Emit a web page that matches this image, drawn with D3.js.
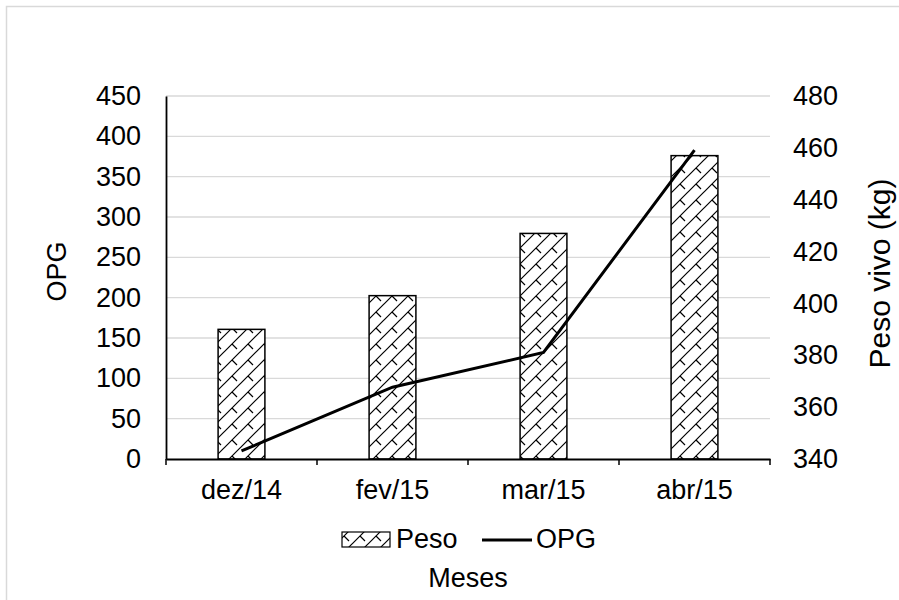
<!DOCTYPE html>
<html>
<head>
<meta charset="utf-8">
<script src="https://cdn.jsdelivr.net/npm/d3@7"></script>
<style>
  html, body { margin: 0; padding: 0; background: #fff; }
  svg { display: block; }
  text { font-family: "Liberation Sans", Arial, sans-serif; fill: #000; }
</style>
</head>
<body>
<svg id="chart" width="899" height="600"></svg>
<script>
// ---- data ----
const categories = ["dez/14", "fev/15", "mar/15", "abr/15"];
const pesoValues = [390, 403, 427, 457];     // Peso vivo (kg), right axis, bars
const opgValues  = [10, 89, 132, 383];       // OPG, left axis, line
const leftTicks  = [0, 50, 100, 150, 200, 250, 300, 350, 400, 450];
const rightTicks = [340, 360, 380, 400, 420, 440, 460, 480];

const W = 899, H = 600;
const plot = { left: 166, right: 770, top: 96, bottom: 459 };
const fontSize = 27;

const svg = d3.select("#chart");

// pattern (shingle-like hatch)
const defs = svg.append("defs");
const pat = defs.append("pattern")
  .attr("id", "shingle")
  .attr("patternUnits", "userSpaceOnUse")
  .attr("width", 16).attr("height", 16);
pat.append("rect").attr("width", 16).attr("height", 16).attr("fill", "#fff");
pat.append("path")
  .attr("d", "M-2,18 L18,-2 M-2,2 L2,-2 M14,18 L18,14 M8,8 L13,13")
  .attr("stroke", "#000").attr("stroke-width", 1.2).attr("fill", "none");

// chart border
svg.append("rect")
  .attr("x", 6.5).attr("y", 6.5)
  .attr("width", W + 10).attr("height", H + 10)
  .attr("fill", "none").attr("stroke", "#d9d9d9").attr("stroke-width", 1.5);

// scales
const x = d3.scaleBand().domain(categories).range([plot.left, plot.right]).padding(0);
const yL = d3.scaleLinear().domain([0, 450]).range([plot.bottom, plot.top]);
const yR = d3.scaleLinear().domain([340, 480]).range([plot.bottom, plot.top]);
const barW = x.bandwidth() * 0.31;

// gridlines
svg.append("g")
  .selectAll("line").data(leftTicks.filter(d => d > 0)).join("line")
  .attr("x1", plot.left).attr("x2", plot.right)
  .attr("y1", d => yL(d)).attr("y2", d => yL(d))
  .attr("stroke", "#d9d9d9").attr("stroke-width", 1.3);

// bars
svg.append("g")
  .selectAll("rect").data(categories).join("rect")
  .attr("x", (d) => x(d) + x.bandwidth() / 2 - barW / 2)
  .attr("y", (d, i) => yR(pesoValues[i]))
  .attr("width", barW)
  .attr("height", (d, i) => yR(340) - yR(pesoValues[i]))
  .attr("fill", "url(#shingle)")
  .attr("stroke", "#000").attr("stroke-width", 1.5);

// left axis
const leftAxis = d3.axisLeft(yL).tickValues(leftTicks).tickSize(0).tickPadding(25);
const gL = svg.append("g").attr("transform", `translate(${plot.left},0)`).call(leftAxis);
gL.select(".domain").attr("stroke", "#000").attr("stroke-width", 1.8);
gL.selectAll("text").style("font-size", fontSize + "px").attr("font-family", null);

// right axis
const rightAxis = d3.axisRight(yR).tickValues(rightTicks).tickSize(0).tickPadding(23);
const gR = svg.append("g").attr("transform", `translate(${plot.right},0)`).call(rightAxis);
gR.select(".domain").remove();
gR.selectAll("text").style("font-size", fontSize + "px").attr("font-family", null);

// bottom axis
const bottomAxis = d3.axisBottom(x).tickSize(0).tickPadding(21);
const gB = svg.append("g").attr("transform", `translate(0,${plot.bottom})`).call(bottomAxis);
gB.select(".domain").attr("stroke", "#000").attr("stroke-width", 1.8);
gB.selectAll("text").style("font-size", fontSize + "px").attr("font-family", null);
// category boundary ticks
const bounds = categories.map(c => x(c)).concat([x(categories[categories.length - 1]) + x.bandwidth()]);
gB.selectAll("line.bt").data(bounds).join("line").attr("class", "bt")
  .attr("x1", d => d).attr("x2", d => d).attr("y1", 0).attr("y2", 6)
  .attr("stroke", "#000").attr("stroke-width", 1.5);

// OPG line
const line = d3.line()
  .x((d, i) => x(categories[i]) + x.bandwidth() / 2)
  .y(d => yL(d));
svg.append("path").datum(opgValues)
  .attr("d", line)
  .attr("fill", "none").attr("stroke", "#000").attr("stroke-width", 3);

// axis titles
svg.append("text")
  .attr("transform", `translate(66,${(plot.top + plot.bottom) / 2 - 6}) rotate(-90)`)
  .attr("text-anchor", "middle")
  .style("font-size", fontSize + "px")
  .text("OPG");
svg.append("text")
  .attr("transform", `translate(890,${(plot.top + plot.bottom) / 2 - 4}) rotate(-90)`)
  .attr("text-anchor", "middle")
  .style("font-size", "30px")
  .text("Peso vivo (kg)");
svg.append("text")
  .attr("x", 468).attr("y", 587)
  .attr("text-anchor", "middle")
  .style("font-size", fontSize + "px")
  .text("Meses");

// legend
const lg = svg.append("g");
lg.append("rect").attr("x", 342).attr("y", 532).attr("width", 48).attr("height", 15)
  .attr("fill", "url(#shingle)").attr("stroke", "#000").attr("stroke-width", 1.2);
lg.append("text").attr("x", 396).attr("y", 548).style("font-size", fontSize + "px").text("Peso");
lg.append("line").attr("x1", 482).attr("x2", 532).attr("y1", 540).attr("y2", 540)
  .attr("stroke", "#000").attr("stroke-width", 3);
lg.append("text").attr("x", 536).attr("y", 548).style("font-size", fontSize + "px").text("OPG");
</script>
</body>
</html>
